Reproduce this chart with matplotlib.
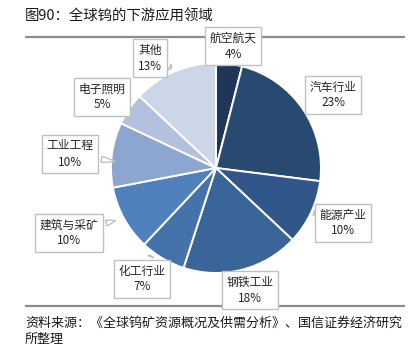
import matplotlib
matplotlib.use("Agg")
import matplotlib.pyplot as plt

plt.rcParams['font.family'] = ['Noto Sans CJK SC', 'DejaVu Sans']

# tungsten end-use shares, clockwise from 12 o'clock
sectors = ['航空航天', '汽车行业', '能源产业', '钢铁工业', '化工行业',
           '建筑与采矿', '工业工程', '电子照明', '其他']
shares = [4, 23, 10, 18, 7, 10, 10, 5, 13]
colors = ['#1f3658', '#284a70', '#30568a', '#3a6598', '#4572aa',
          '#4f81bd', '#8da6cf', '#b2c2de', '#cdd6e7']

# label box centres (px from top-left) and where each tail points (None = no tail)
label_pos = [(233, 46), (333, 95), (343, 223), (250, 290), (142, 279),
             (69, 233), (70, 154), (102, 97), (150, 58)]
tail_pos = [None, None, (314, 213), None, (152, 253),
            (118, 220), (118, 162), (122, 106), (174, 69)]

W, H = 412, 345
fig = plt.figure(figsize=(W / 100, H / 100), dpi=100)
ax = fig.add_axes([0, 0, 1, 1])
ax.set_xlim(0, W)
ax.set_ylim(H, 0)
ax.set_aspect('equal')
ax.axis('off')

ax.pie(shares, colors=colors, startangle=270, counterclock=True,
       center=(216, 168), radius=105,
       wedgeprops=dict(edgecolor='white', linewidth=1.4))
ax.set_xlim(0, W)
ax.set_ylim(H, 0)

for name, val, (lx, ly), tail in zip(sectors, shares, label_pos, tail_pos):
    box = dict(boxstyle='square,pad=0.4', fc='white', ec='#c0c0c0', lw=1.0)
    txt = f'{name}\n{val}%'
    if tail is None:
        ax.text(lx, ly, txt, ha='center', va='center', fontsize=8.5,
                color='#262626', linespacing=1.3, bbox=box, zorder=5)
    else:
        ax.annotate(txt, xy=tail, xytext=(lx, ly), ha='center', va='center',
                    fontsize=8.5, color='#262626', linespacing=1.3, bbox=box,
                    zorder=5,
                    arrowprops=dict(arrowstyle='wedge,tail_width=0.5,shrink_factor=0.6',
                                    fc='white', ec='#c0c0c0', lw=1.0))

# header and footer rules
ax.plot([25, 405], [37, 37], color='#8c8c8c', lw=1.6, solid_capstyle='butt')
ax.plot([25, 405], [306, 306], color='#8c8c8c', lw=1.6, solid_capstyle='butt')

ax.text(25, 17, '图90：全球钨的下游应用领域', ha='left', va='center',
        fontsize=10.4, color='#1a1a1a')
ax.text(25, 323, '资料来源：《全球钨矿资源概况及供需分析》、国信证券经济研究',
        ha='left', va='center', fontsize=9.4, color='#1a1a1a')
ax.text(25, 339, '所整理', ha='left', va='center', fontsize=9.4, color='#1a1a1a')

fig.savefig('out.png', dpi=100, facecolor='white')
